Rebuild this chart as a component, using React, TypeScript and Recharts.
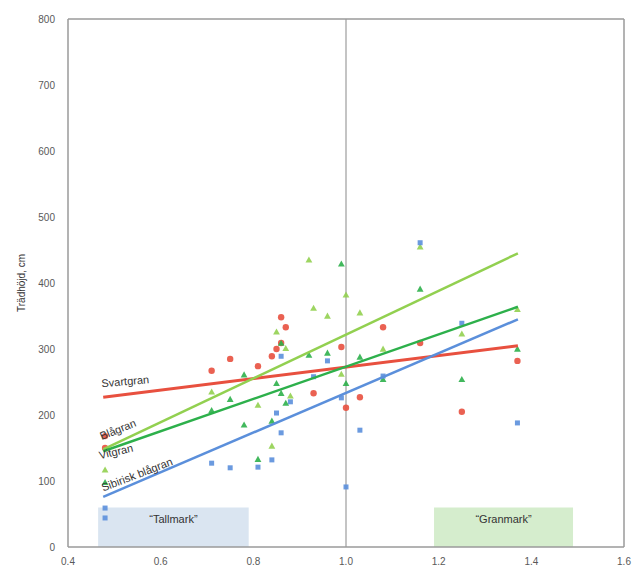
import React from "react";
import {
  ScatterChart,
  Scatter,
  XAxis,
  YAxis,
  ReferenceArea,
  ReferenceLine,
} from "recharts";

// ---- axis ticks ----
const xTicks = [0.4, 0.6, 0.8, 1.0, 1.2, 1.4, 1.6];
const yTicks = [0, 100, 200, 300, 400, 500, 600, 700, 800];

// ---- series values ----
const svartgranX = [0.48, 0.48, 0.71, 0.75, 0.81, 0.84, 0.85, 0.86, 0.86, 0.87, 0.93, 0.99, 1.0, 1.03, 1.08, 1.16, 1.25, 1.37];
const svartgranY = [168, 150, 267, 285, 274, 289, 300, 348, 309, 333, 233, 303, 211, 227, 333, 309, 205, 282];

const blagranX = [0.48, 0.71, 0.81, 0.84, 0.85, 0.87, 0.88, 0.92, 0.93, 0.96, 0.99, 1.0, 1.03, 1.08, 1.16, 1.25, 1.37];
const blagranY = [117, 235, 215, 153, 326, 301, 229, 435, 362, 350, 262, 382, 355, 300, 455, 323, 360];

const vitgranX = [0.48, 0.71, 0.75, 0.78, 0.78, 0.81, 0.84, 0.85, 0.86, 0.86, 0.87, 0.92, 0.96, 0.99, 1.0, 1.03, 1.08, 1.16, 1.25, 1.37];
const vitgranY = [98, 207, 224, 185, 261, 133, 191, 248, 309, 233, 218, 291, 294, 429, 248, 288, 254, 391, 254, 300];

const sibiriskX = [0.48, 0.48, 0.71, 0.75, 0.81, 0.84, 0.85, 0.86, 0.86, 0.88, 0.93, 0.96, 0.99, 1.0, 1.03, 1.08, 1.16, 1.25, 1.37];
const sibiriskY = [59, 44, 127, 120, 121, 132, 203, 289, 173, 220, 258, 282, 226, 91, 177, 259, 461, 339, 188];

// ---- trend lines (start / end) ----
const trendX = [0.476, 1.371];
const svartgranTrend = [227, 305];
const blagranTrend = [148, 445];
const vitgranTrend = [145, 364];
const sibiriskTrend = [76, 345];

// ---- line labels ----
const lineLabels = ["Svartgran", "Blågran", "Vitgran", "Sibirisk blågran"];
const lineLabelX = [0.473, 0.473, 0.469, 0.476];
const lineLabelY = [242, 162, 133, 84];
const lineLabelAngle = [-5, -22, -13, -21];

// ---- zones ----
const zoneNames = ["\u201CTallmark\u201D", "\u201CGranmark\u201D"];
const zoneX1 = [0.465, 1.19];
const zoneX2 = [0.79, 1.49];
const zoneTop = 60;

const zip = (xs: number[], ys: number[]) => xs.map((x, i) => ({ x, y: ys[i] }));

const RED = "#E8503F";
const LGREEN = "#92D050";
const GREEN = "#2DB04B";
const BLUE = "#5B8FDB";
const FONT = "'Liberation Sans', Arial, sans-serif";

const EmptyShape = () => <g />;

const CircleShape = (props: any) => (
  <circle cx={props.cx} cy={props.cy} r={3.2} fill={RED} fillOpacity={0.9} />
);
const makeTriangle = (color: string) => (props: any) => {
  const { cx, cy } = props;
  const s = 3.4;
  return (
    <path
      d={`M${cx},${cy - s} L${cx + s},${cy + s * 0.8} L${cx - s},${cy + s * 0.8} Z`}
      fill={color}
      fillOpacity={0.9}
    />
  );
};
const LTriangle = makeTriangle(LGREEN);
const GTriangle = makeTriangle(GREEN);
const SquareShape = (props: any) => (
  <rect x={props.cx - 2.5} y={props.cy - 2.5} width={5} height={5} fill={BLUE} fillOpacity={0.9} />
);

const LabelShape = (props: any) => {
  const { cx, cy, payload } = props;
  return (
    <text
      x={cx}
      y={cy}
      transform={`rotate(${payload.angle} ${cx} ${cy})`}
      fontSize={11}
      fill="#333"
      fontFamily={FONT}
    >
      {payload.text}
    </text>
  );
};

const labelData = lineLabels.map((t, i) => ({
  x: lineLabelX[i],
  y: lineLabelY[i],
  text: t,
  angle: lineLabelAngle[i],
}));

export default function App() {
  return (
    <div style={{ position: "absolute", left: 0, top: 0, width: 634, height: 576, background: "#fff" }}>
      <ScatterChart
        width={634}
        height={576}
        margin={{ top: 19, right: 10, bottom: 0, left: 0 }}
      >
        <XAxis
          type="number"
          dataKey="x"
          domain={[0.4, 1.6]}
          ticks={xTicks}
          tickFormatter={(v: number) => v.toFixed(1)}
          allowDataOverflow
          height={29}
          axisLine={{ stroke: "#9a9a9a", strokeWidth: 1.5 }}
          tickLine={false}
          tickMargin={5}
          tick={{ fill: "#595959", fontSize: 10, fontFamily: FONT }}
        />
        <YAxis
          type="number"
          dataKey="y"
          domain={[0, 800]}
          ticks={yTicks}
          allowDataOverflow
          width={68}
          axisLine={{ stroke: "#9a9a9a", strokeWidth: 1.5 }}
          tickLine={false}
          tickMargin={7}
          tick={{ fill: "#595959", fontSize: 10, fontFamily: FONT }}
          label={{
            value: "Trädhöjd, cm",
            angle: -90,
            position: "insideLeft",
            offset: 21,
            style: { textAnchor: "middle", fontSize: 10, fill: "#333", fontFamily: FONT },
          }}
        />
        {zoneNames.map((n, i) => (
          <ReferenceArea
            key={n}
            x1={zoneX1[i]}
            x2={zoneX2[i]}
            y1={0}
            y2={zoneTop}
            fill={i === 0 ? "#DAE5F1" : "#D5EDCD"}
            fillOpacity={1}
            stroke="none"
            label={{
              value: n,
              position: "insideTop",
              offset: 8,
              fill: "#333",
              fontSize: 11,
              fontFamily: FONT,
            }}
          />
        ))}
        <ReferenceLine x={1.0} stroke="#C4C4C4" strokeWidth={2} />
        <ReferenceLine y={800} stroke="#9a9a9a" strokeWidth={1.5} />
        <ReferenceLine x={1.6} stroke="#9a9a9a" strokeWidth={1.5} />

        <Scatter data={zip(svartgranX, svartgranY)} fill={RED} shape={CircleShape} isAnimationActive={false} />
        <Scatter data={zip(blagranX, blagranY)} fill={LGREEN} shape={LTriangle} isAnimationActive={false} />
        <Scatter data={zip(vitgranX, vitgranY)} fill={GREEN} shape={GTriangle} isAnimationActive={false} />
        <Scatter data={zip(sibiriskX, sibiriskY)} fill={BLUE} shape={SquareShape} isAnimationActive={false} />

        <Scatter data={zip(trendX, svartgranTrend)} line={{ stroke: RED, strokeWidth: 3 }} shape={EmptyShape} isAnimationActive={false} />
        <Scatter data={zip(trendX, blagranTrend)} line={{ stroke: LGREEN, strokeWidth: 2.5 }} shape={EmptyShape} isAnimationActive={false} />
        <Scatter data={zip(trendX, vitgranTrend)} line={{ stroke: GREEN, strokeWidth: 2.5 }} shape={EmptyShape} isAnimationActive={false} />
        <Scatter data={zip(trendX, sibiriskTrend)} line={{ stroke: BLUE, strokeWidth: 2.5 }} shape={EmptyShape} isAnimationActive={false} />

        <Scatter data={labelData} shape={LabelShape} isAnimationActive={false} />
      </ScatterChart>
    </div>
  );
}
